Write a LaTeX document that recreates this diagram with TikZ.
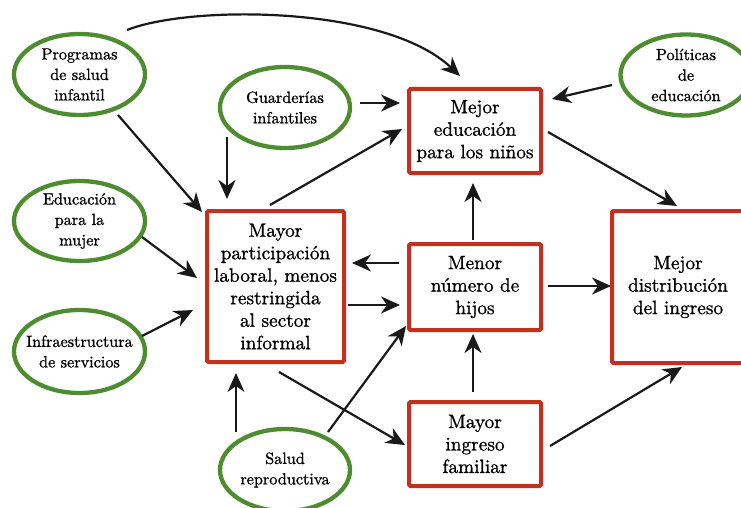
\documentclass[tikz,border=0pt]{standalone}
\usepackage{fontspec}
\newfontfamily\lmheavy{lmroman10-regular.otf}[FakeBold=1.0]
\usetikzlibrary{arrows.meta,shapes.geometric}
\definecolor{egreen}{RGB}{78,140,48}
\definecolor{bred}{RGB}{196,48,30}
\begin{document}
\begin{tikzpicture}[x=1pt,y=-1pt,
 ell/.style={ellipse,draw=egreen,line width=4.3pt,inner xsep=-20pt,inner ysep=-6pt,align=center,font=\lmheavy\fontsize{16.2}{20.5}\selectfont},
 box/.style={rectangle,draw=bred,line width=4pt,rounded corners=1.5pt,inner sep=0pt,align=center,font=\lmheavy\fontsize{19.3}{22.5}\selectfont},
 arr/.style={-{Stealth[length=19pt,width=17pt,inset=6pt]},line width=2.2pt,draw=black!90}]
\clip (0,0) rectangle (741,508);
\useasboundingbox (0,0) rectangle (741,508);
\fill[white] (0,0) rectangle (741,508);
% boxes
\node[box,minimum width=132pt,minimum height=84pt] (educ) at (475,131) {Mejor\\educación\\para los niños};
\node[box,minimum width=137pt,minimum height=151pt] (part) at (275.5,286.5) {Mayor\\participación\\laboral, menos\\restringida\\al sector\\informal};
\node[box,minimum width=132pt,minimum height=86pt] (menor) at (475,287) {Menor\\número de\\hijos};
\node[box,minimum width=132pt,minimum height=84pt] (ingreso) at (475,444) {Mayor\\ingreso\\familiar};
\node[box,minimum width=132pt,minimum height=152pt] (distr) at (678,287) {Mejor\\distribución\\del ingreso};
% ellipses
\node[ell,minimum width=131pt,minimum height=81pt] (prog) at (79.5,74.5) {Programas\\de salud\\infantil};
\node[ell,minimum width=130pt,minimum height=81pt] (guard) at (285,107.5) {Guarderías\\infantiles};
\node[ell,minimum width=131pt,minimum height=81pt] (polit) at (686,75) {Políticas\\de\\educación};
\node[ell,minimum width=131pt,minimum height=80pt] (mujer) at (79.5,221) {Educación\\para la\\mujer};
\node[ell,minimum width=131pt,minimum height=83pt] (infra) at (79.5,351.5) {Infraestructura\\de servicios};
\node[ell,minimum width=130pt,minimum height=82pt] (salud) at (285,470) {Salud\\reproductiva};
% arrows
\draw[arr] ([shift={(47.5,-44.5)}]prog.center) .. controls (190,5) and (385,5) .. ([shift={(-15,-55)}]educ.center);
\draw[arr] ([shift={(38.5,40.5)}]prog.center) -- ([shift={(-73.5,-74.5)}]part.center);
\draw[arr] ([shift={(-58,29.5)}]guard.center) -- ([shift={(-48.5,-87.5)}]part.center);
\draw[arr] ([shift={(75,-4.5)}]guard.center) -- ([shift={(-75,-28)}]educ.center);
\draw[arr] ([shift={(-5.5,-81.5)}]part.center) -- ([shift={(-73,-2)}]educ.center);
\draw[arr] ([shift={(-74,10)}]polit.center) -- ([shift={(77,-32)}]educ.center);
\draw[arr] ([shift={(73,1)}]educ.center) -- ([shift={(-1,-81)}]distr.center);
\draw[arr] ([shift={(62.5,16)}]mujer.center) -- ([shift={(-78.5,-8.5)}]part.center);
\draw[arr] ([shift={(62.5,-15.5)}]infra.center) -- ([shift={(-82.5,23.5)}]part.center);
\draw[arr] ([shift={(-76,-24)}]menor.center) -- ([shift={(76.5,-23.5)}]part.center);
\draw[arr] ([shift={(72.5,18.5)}]part.center) -- ([shift={(-75,18)}]menor.center);
\draw[arr] ([shift={(-2,-47)}]menor.center) -- ([shift={(-2,52)}]educ.center);
\draw[arr] ([shift={(73,-1)}]menor.center) -- ([shift={(-67,-1)}]distr.center);
\draw[arr] ([shift={(-2,-52)}]ingreso.center) -- ([shift={(-2,47)}]menor.center);
\draw[arr] ([shift={(75,2)}]ingreso.center) -- ([shift={(4,80)}]distr.center);
\draw[arr] ([shift={(3.5,85.5)}]part.center) -- ([shift={(-70,1)}]ingreso.center);
\draw[arr] ([shift={(-49,-38)}]salud.center) -- ([shift={(-39.5,86.5)}]part.center);
\draw[arr] ([shift={(43,-38)}]salud.center) -- ([shift={(-69,39)}]menor.center);
\end{tikzpicture}
\end{document}
